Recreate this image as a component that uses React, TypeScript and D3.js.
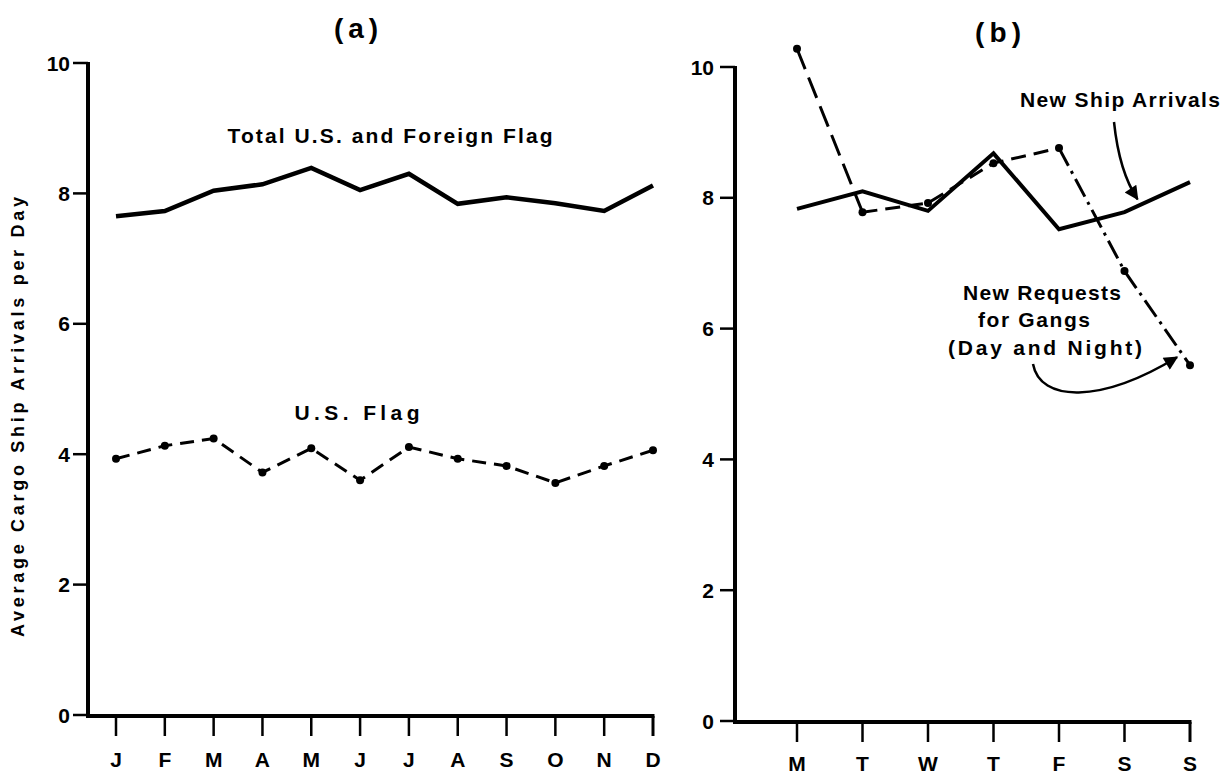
import React from "react";
import * as d3 from "d3";

// Panel (a): monthly averages
const months = ["J", "F", "M", "A", "M", "J", "J", "A", "S", "O", "N", "D"];
const totalFlag = [7.65, 7.73, 8.04, 8.14, 8.39, 8.05, 8.3, 7.84, 7.94, 7.85, 7.73, 8.12];
const usFlag = [3.93, 4.13, 4.24, 3.72, 4.09, 3.6, 4.11, 3.93, 3.82, 3.56, 3.82, 4.06];

// Panel (b): day-of-week averages
const days = ["M", "T", "W", "T", "F", "S", "S"];
const newArrivals = [7.83, 8.1, 7.8, 8.68, 7.52, 7.78, 8.24];
const newRequests = [10.28, 7.78, 7.92, 8.53, 8.76, 6.88, 5.44];

const yTicks = [0, 2, 4, 6, 8, 10];

const FONT = "'Liberation Sans', Arial, sans-serif";
const INK = "#000";

const W = 1229;
const H = 777;

// scales
const xA = d3.scaleLinear().domain([0, months.length - 1]).range([116, 653]);
const yA = d3.scaleLinear().domain([0, 10]).range([715, 63]);
const xB = d3.scaleLinear().domain([0, days.length - 1]).range([797, 1190]);
const yB = d3.scaleLinear().domain([0, 10]).range([721, 67]);

const lineA = d3
  .line<number>()
  .x((_, i) => xA(i))
  .y((d) => yA(d));
const lineB = d3
  .line<number>()
  .x((_, i) => xB(i))
  .y((d) => yB(d));

// dash pattern for each stretch of the requests curve
const requestSegments: { from: number; to: number; dash: string }[] = [
  { from: 0, to: 1, dash: "22,9" },
  { from: 1, to: 4, dash: "15,8" },
  { from: 4, to: 6, dash: "20,6,3,6" },
];

function YAxis({
  x,
  y,
  labelX,
}: {
  x: number;
  y: d3.ScaleLinear<number, number>;
  labelX: number;
}) {
  return (
    <g>
      <line x1={x} x2={x} y1={y(10) - 1} y2={y(0) + 2} stroke={INK} strokeWidth={4} />
      {yTicks.map((t) => (
        <g key={t}>
          <line x1={x - 15} x2={x} y1={y(t)} y2={y(t)} stroke={INK} strokeWidth={2.5} />
          <text
            x={labelX}
            y={y(t)}
            dy="0.36em"
            textAnchor="end"
            fontFamily={FONT}
            fontWeight="bold"
            fontSize={21}
            fill={INK}
          >
            {t}
          </text>
        </g>
      ))}
    </g>
  );
}

function XAxis({
  x0,
  labels,
  x,
  y0,
  labelY,
}: {
  x0: number;
  labels: string[];
  x: d3.ScaleLinear<number, number>;
  y0: number;
  labelY: number;
}) {
  const last = labels.length - 1;
  return (
    <g>
      <line x1={x0 - 2} x2={x(last) + 1.5} y1={y0} y2={y0} stroke={INK} strokeWidth={4} />
      {labels.map((l, i) => (
        <g key={i}>
          <line x1={x(i)} x2={x(i)} y1={y0} y2={y0 + 20} stroke={INK} strokeWidth={i === last ? 3 : 2.5} />
          <text
            x={x(i)}
            y={labelY}
            textAnchor="middle"
            fontFamily={FONT}
            fontWeight="bold"
            fontSize={21}
            fill={INK}
          >
            {l}
          </text>
        </g>
      ))}
    </g>
  );
}

function Label({
  x,
  y,
  text,
  len,
  size = 20,
}: {
  x: number;
  y: number;
  text: string;
  len: number;
  size?: number;
}) {
  return (
    <text
      x={x}
      y={y}
      textAnchor="middle"
      fontFamily={FONT}
      fontWeight="bold"
      fontSize={size}
      textLength={len}
      lengthAdjust="spacing"
      fill={INK}
    >
      {text}
    </text>
  );
}

export default function App() {
  const newArrivalsIdx = 5;
  const requestsLastIdx = newRequests.length - 1;
  return (
    <svg
      width={W}
      height={H}
      viewBox={`0 0 ${W} ${H}`}
      style={{ position: "absolute", left: 0, top: 0, background: "#fff" }}
    >
      <defs>
        <marker
          id="headBig"
          viewBox="0 0 10 10"
          refX="9"
          refY="5"
          markerWidth="18"
          markerHeight="14"
          orient="auto"
          markerUnits="userSpaceOnUse"
        >
          <path d="M0,0 L10,5 L0,10 Z" fill={INK} />
        </marker>
      </defs>
      <rect width={W} height={H} fill="#fff" />

      {/* ---------- panel (a) ---------- */}
      <Label x={356} y={38} text="(a)" len={44} size={28} />
      <YAxis x={88} y={yA} labelX={70} />
      <XAxis x0={88} labels={months} x={xA} y0={716} labelY={767} />
      <text
        transform={`translate(23.5,417) rotate(-90)`}
        textAnchor="middle"
        fontFamily={FONT}
        fontWeight="bold"
        fontSize={18}
        textLength={440}
        lengthAdjust="spacing"
        fill={INK}
      >
        Average Cargo Ship Arrivals per Day
      </text>

      <path
        d={lineA(totalFlag) ?? ""}
        fill="none"
        stroke={INK}
        strokeWidth={4.5}
        strokeLinejoin="miter"
      />
      <path
        d={lineA(usFlag) ?? ""}
        fill="none"
        stroke={INK}
        strokeWidth={3}
        strokeDasharray="14,8"
      />
      {usFlag.map((d, i) => (
        <circle key={i} cx={xA(i)} cy={yA(d)} r={4} fill={INK} />
      ))}
      <Label x={390} y={143} text="Total U.S. and Foreign Flag" len={325} size={21} />
      <Label x={357} y={420} text="U.S. Flag" len={125} size={21} />

      {/* ---------- panel (b) ---------- */}
      <Label x={998} y={42} text="(b)" len={46} size={28} />
      <YAxis x={735} y={yB} labelX={714} />
      <XAxis x0={735} labels={days} x={xB} y0={722} labelY={771} />

      <path
        d={lineB(newArrivals) ?? ""}
        fill="none"
        stroke={INK}
        strokeWidth={4}
        strokeLinejoin="miter"
      />
      {requestSegments.map((s, k) => {
        const pts = newRequests.slice(s.from, s.to + 1);
        const seg = d3
          .line<number>()
          .x((_, i) => xB(s.from + i))
          .y((d) => yB(d));
        return (
          <path
            key={k}
            d={seg(pts) ?? ""}
            fill="none"
            stroke={INK}
            strokeWidth={3}
            strokeDasharray={s.dash}
          />
        );
      })}
      {newRequests.map((d, i) => (
        <circle key={i} cx={xB(i)} cy={yB(d)} r={4} fill={INK} />
      ))}

      <Label x={1120} y={107} text="New Ship Arrivals" len={200} size={21} />
      <path
        d={`M1114,122 C1118,160 1126,182 ${xB(newArrivalsIdx) + 13},${yB(newArrivals[newArrivalsIdx]) - 13}`}
        fill="none"
        stroke={INK}
        strokeWidth={2.5}
        markerEnd="url(#headBig)"
      />

      <Label x={1042} y={300} text="New Requests" len={158} size={21} />
      <Label x={1034} y={327} text="for Gangs" len={112} size={21} />
      <Label x={1045} y={355} text="(Day and Night)" len={194} size={21} />
      <path
        d={`M1033,364 C1040,402 1100,404 ${xB(requestsLastIdx) - 13},${yB(newRequests[requestsLastIdx]) - 8}`}
        fill="none"
        stroke={INK}
        strokeWidth={2.5}
        markerEnd="url(#headBig)"
      />
    </svg>
  );
}
